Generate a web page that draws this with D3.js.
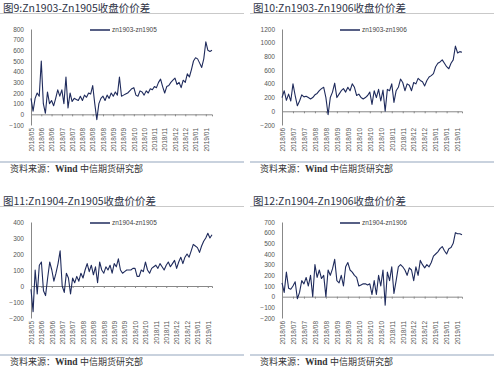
<!DOCTYPE html>
<html>
<head>
<meta charset="utf-8">
<script src="https://cdn.jsdelivr.net/npm/d3@7"></script>
<style>
  body { margin: 0; background: #fff; }
  svg { display: block; }
  .tick text { fill: #555; }
</style>
</head>
<body>
<div id="d3-container"></div>
<script>
const width = 500,
  height = 372,
  lineColor = "#1f2b5c";

// tick labels (one every 5 points)
const labels1 = ["2018/05","2018/06","2018/06","2018/07","2018/07","2018/08","2018/08","2018/08","2018/09","2018/09","2018/10","2018/10","2018/11","2018/11","2018/12","2018/12","2019/01","2019/01"];
const labels2 = ["2018/06","2018/07","2018/07","2018/08","2018/08","2018/09","2018/09","2018/10","2018/10","2018/10","2018/11","2018/11","2018/12","2018/12","2019/01","2019/01","2019/01"];
const labels3 = ["2018/05","2018/06","2018/06","2018/07","2018/07","2018/08","2018/08","2018/08","2018/09","2018/09","2018/10","2018/10","2018/11","2018/11","2018/12","2018/12","2019/01","2019/01"];
const labels4 = ["2018/06","2018/07","2018/07","2018/08","2018/08","2018/09","2018/09","2018/10","2018/10","2018/10","2018/11","2018/11","2018/12","2018/12","2019/01","2019/01","2019/01"];

// spreads
const zn1903_1905 = [150,30,150,200,170,500,100,10,210,100,130,80,150,230,170,230,100,350,60,200,120,150,140,130,170,130,180,160,200,190,270,100,-50,100,150,170,130,180,150,200,170,210,180,350,170,180,190,200,220,240,250,180,170,220,210,180,220,200,240,230,260,250,300,330,260,200,260,270,300,320,340,280,300,250,320,300,380,350,420,500,530,520,480,440,520,680,600,590,600];
const zn1903_1906 = [200,300,160,250,150,400,230,80,150,240,210,220,200,180,200,240,260,300,330,350,200,-50,200,280,410,200,250,300,330,280,350,300,400,350,230,250,200,180,200,230,280,100,300,200,320,150,310,0,320,300,400,130,300,350,470,420,300,400,380,300,420,400,480,450,430,370,450,500,520,550,650,700,720,750,700,650,620,700,750,950,850,870,860];
const zn1904_1905 = [-20,-160,100,-50,130,150,-30,-60,50,150,100,30,80,140,220,0,-40,80,50,-50,50,20,60,30,80,50,100,140,90,130,70,120,20,150,100,80,120,100,130,80,140,120,170,100,80,90,100,100,100,110,110,60,60,100,90,150,100,80,110,120,130,110,140,120,100,130,150,120,140,160,110,150,180,140,180,200,180,220,260,250,240,210,250,280,300,330,300,320];
const zn1904_1906 = [130,40,230,80,70,100,140,-20,40,150,120,180,100,200,0,300,180,250,170,200,0,250,200,260,350,150,130,200,100,280,320,250,230,200,180,100,110,120,120,110,120,20,150,20,200,100,250,-80,230,150,280,30,150,280,300,280,250,200,270,250,150,280,200,340,300,270,300,280,320,380,400,420,450,470,430,400,450,460,500,600,590,590,580];

const yTicks1 = d3.range(-100, 801, 100);
const yTicks2 = d3.range(-200, 1201, 200);
const yTicks3 = d3.range(-200, 401, 100);
const yTicks4 = d3.range(-200, 701, 100);

const panels = [
  { x: 0, y: 0, title: "图9:Zn1903-Zn1905收盘价价差", name: "zn1903-zn1905", data: zn1903_1905, labels: labels1, yTicks: yTicks1, left: 31 },
  { x: 250, y: 0, title: "图10:Zn1903-Zn1906收盘价价差", name: "zn1903-zn1906", data: zn1903_1906, labels: labels2, yTicks: yTicks2, left: 32 },
  { x: 0, y: 193, title: "图11:Zn1904-Zn1905收盘价价差", name: "zn1904-zn1905", data: zn1904_1905, labels: labels3, yTicks: yTicks3, left: 31 },
  { x: 250, y: 193, title: "图12:Zn1904-Zn1906收盘价价差", name: "zn1904-zn1906", data: zn1904_1906, labels: labels4, yTicks: yTicks4, left: 32 }
];

const svg = d3.select("#d3-container")
  .append("svg")
  .attr("width", width)
  .attr("height", height);

panels.forEach(p => drawPanel(p));

function drawPanel(p) {
  const g = svg.append("g").attr("transform", `translate(${p.x},${p.y})`);
  const top = 29, bottom = 125, right = 212;

  // title + rule under it
  g.append("text")
    .attr("x", 3).attr("y", 11.5)
    .attr("font-family", "'Noto Sans CJK SC', sans-serif")
    .attr("font-size", 10.5)
    .attr("fill", "#2e3346")
    .text(p.title);
  g.append("line")
    .attr("x1", 0).attr("x2", 244).attr("y1", 13.5).attr("y2", 13.5)
    .attr("stroke", "#c9c9c9").attr("stroke-width", 1);

  const xScale = d3.scaleLinear()
    .domain([0, p.data.length - 1])
    .range([p.left, right]);
  const yScale = d3.scaleLinear()
    .domain(d3.extent(p.yTicks))
    .range([bottom, top]);

  // y axis
  const yAxis = d3.axisLeft(yScale).tickValues(p.yTicks).tickFormat(d3.format("d")).tickSize(0).tickPadding(7);
  const ya = g.append("g")
    .attr("transform", `translate(${p.left},0)`)
    .style("font-family", "Arial, 'Liberation Sans', sans-serif")
    .style("font-size", "6.5px")
    .call(yAxis);
  ya.select(".domain").attr("stroke", "#888");

  // x axis at zero with small ticks
  const tickIdx = p.labels.map((d, i) => i * 5);
  const xAxis = d3.axisBottom(xScale).tickValues(tickIdx).tickSize(2).tickFormat("");
  const xa = g.append("g")
    .attr("transform", `translate(0,${yScale(0)})`)
    .call(xAxis);
  xa.select(".domain").attr("stroke", "#888");
  xa.selectAll(".tick line").attr("stroke", "#888");

  // rotated date labels below the plot
  const lab = g.append("g")
    .attr("transform", `translate(0,${bottom + 2})`)
    .style("font-family", "Arial, 'Liberation Sans', sans-serif")
    .style("font-size", "6.5px")
    .call(d3.axisBottom(xScale).tickValues(tickIdx).tickSize(0).tickFormat((d, i) => p.labels[i]));
  lab.select(".domain").remove();
  lab.selectAll("text")
    .attr("transform", "rotate(-90)")
    .attr("text-anchor", "end")
    .attr("x", -1)
    .attr("y", 0)
    .attr("dy", "0.35em");

  // series line
  const line = d3.line()
    .x((d, i) => xScale(i))
    .y(d => yScale(d));
  g.append("path")
    .datum(p.data)
    .attr("fill", "none")
    .attr("stroke", lineColor)
    .attr("stroke-width", 1.1)
    .attr("stroke-linejoin", "round")
    .attr("d", line);

  // legend
  g.append("line")
    .attr("x1", 90).attr("x2", 110).attr("y1", 30).attr("y2", 30)
    .attr("stroke", lineColor).attr("stroke-width", 1.5);
  g.append("text")
    .attr("x", 112).attr("y", 32.3)
    .attr("font-family", "Arial, 'Liberation Sans', sans-serif")
    .attr("font-size", 6.5)
    .attr("fill", "#444")
    .text(p.name);

  // footer rule + source
  g.append("line")
    .attr("x1", 0).attr("x2", 244).attr("y1", 162).attr("y2", 162)
    .attr("stroke", "#b7c3d3").attr("stroke-width", 1.5);
  const src = g.append("text")
    .attr("x", 10).attr("y", 171.5)
    .attr("font-family", "'Noto Sans CJK SC', sans-serif")
    .attr("font-size", 9)
    .attr("fill", "#333");
  src.append("tspan").text("资料来源：");
  src.append("tspan")
    .attr("font-family", "'Liberation Serif', serif")
    .attr("font-weight", "bold")
    .attr("font-size", 9.5)
    .text("Wind ");
  src.append("tspan").text(" 中信期货研究部");
}
</script>
</body>
</html>
